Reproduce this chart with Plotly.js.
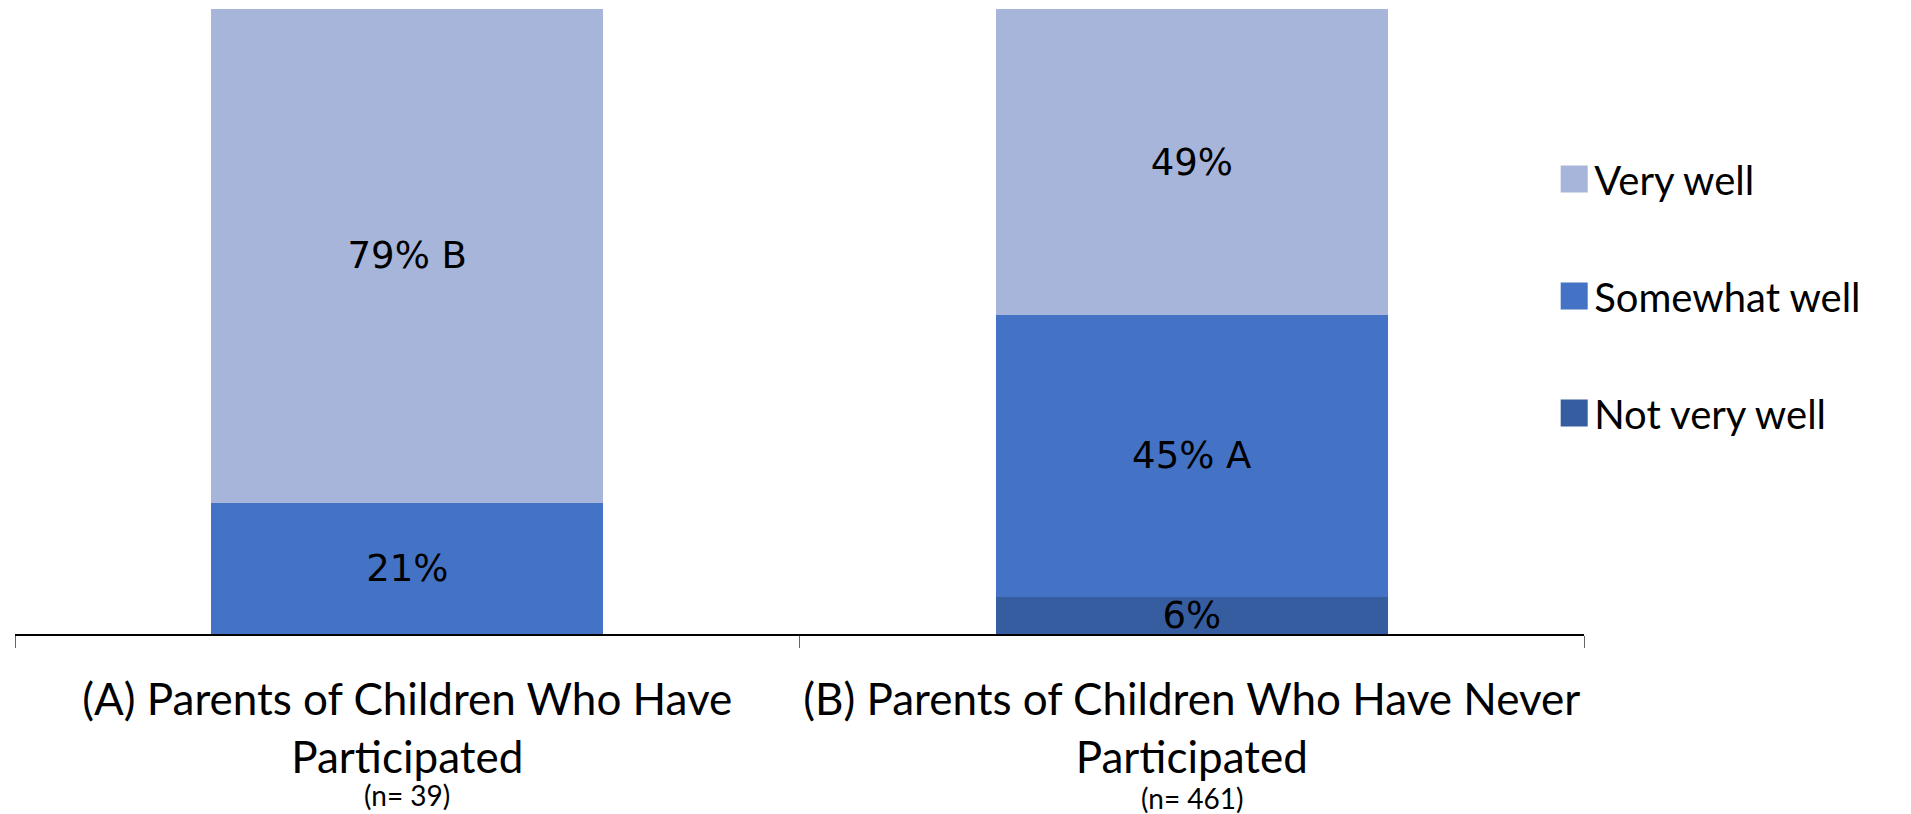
<!DOCTYPE html>
<html>
<head>
<meta charset="utf-8">
<script src="https://cdn.plot.ly/plotly-3.0.1.min.js"></script>
<style>
html,body{margin:0;padding:0;background:#fff;}
#chart{width:1911px;height:814px;}
</style>
</head>
<body>
<div id="chart"></div>
<script>
const categories = [
  "(A) Parents of Children Who Have<br>Participated",
  "(B) Parents of Children Who Have Never<br>Participated"
];
const sampleSizes = ["(n= 39)", "(n= 461)"];
const seriesNames = ["Not very well", "Somewhat well", "Very well"];
const legendRanks = [3, 2, 1];
const notVeryWell = [0, 6];
const somewhatWell = [21, 45];
const veryWell = [79, 49];
const notVeryWellLabels = ["", "6%"];
const somewhatWellLabels = ["21%", "45% A"];
const veryWellLabels = ["79% B", "49%"];
const colors = ["#365D9F", "#4472C4", "#A7B5DA"];

const values = [notVeryWell, somewhatWell, veryWell];
const labels = [notVeryWellLabels, somewhatWellLabels, veryWellLabels];

const traces = seriesNames.map((name, i) => ({
  type: "bar",
  name: name,
  x: categories,
  y: values[i],
  text: labels[i],
  textposition: "inside",
  insidetextanchor: "middle",
  textangle: 0,
  constraintext: "none",
  textfont: {family: "DejaVu Sans", size: 37, color: "#000"},
  marker: {color: colors[i], line: {width: 0}},
  legendgroup: "g" + i,
  legendrank: legendRanks[i],
  hoverinfo: "none"
}));

const layout = {
  width: 1911,
  height: 814,
  barmode: "stack",
  bargap: 0.5,
  margin: {l: 15, r: 327, t: 8.5, b: 180},
  paper_bgcolor: "#fff",
  plot_bgcolor: "#fff",
  showlegend: true,
  legend: {
    x: 0.981, xanchor: "left", y: 0.78, yanchor: "top",
    traceorder: "grouped",
    tracegroupgap: 62,
    font: {family: "Lato", size: 40, color: "#000"},
    itemwidth: 30,
    bgcolor: "rgba(0,0,0,0)"
  },
  xaxis: {
    type: "category",
    showline: true,
    linecolor: "#000",
    linewidth: 1.5,
    ticks: "outside",
    tickson: "boundaries",
    ticklen: 12,
    tickcolor: "#666",
    tickwidth: 1,
    tickangle: 0,
    ticklabelstandoff: 27,
    tickfont: {family: "Lato", size: 44, color: "#000"},
    showgrid: false,
    zeroline: false,
    fixedrange: true
  },
  yaxis: {
    range: [0, 100],
    visible: false,
    showgrid: false,
    zeroline: false,
    fixedrange: true
  },
  annotations: categories.map((c, i) => ({
    x: c, xref: "x",
    y: [-0.258, -0.263][i], yref: "paper",
    text: sampleSizes[i],
    showarrow: false,
    font: {family: "Lato", size: 28, color: "#000"},
    xanchor: "center", yanchor: "middle"
  }))
};

Plotly.newPlot("chart", traces, layout, {displayModeBar: false, staticPlot: true}).then(gd => {
  gd.querySelectorAll(".legend .legendpoints path").forEach(p => {
    p.setAttribute("d", "M13.5,13.5H-13.5V-13.5H13.5Z");
  });
});
</script>
</body>
</html>
